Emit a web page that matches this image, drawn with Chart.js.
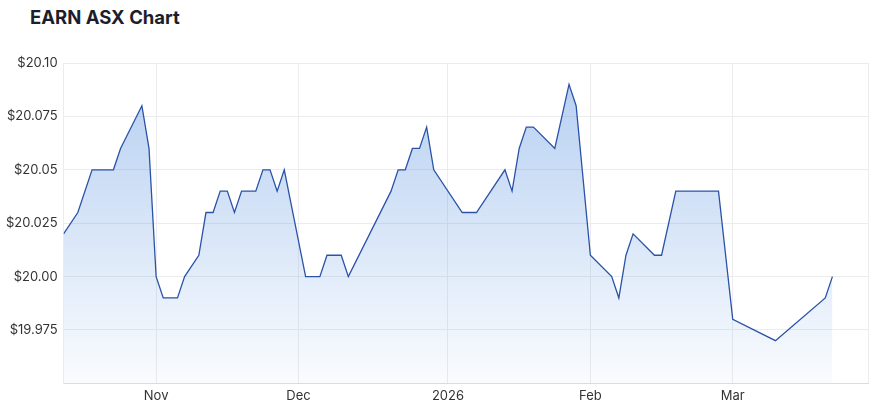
<!DOCTYPE html>
<html>
<head>
<meta charset="utf-8">
<script src="https://cdn.jsdelivr.net/npm/chart.js@4"></script>
<style>
  body { margin: 0; background: #fff; }
  #wrap { position: relative; width: 875px; height: 409px; }
  #title {
    position: absolute; left: 30px; top: 6px;
    font: bold 18.5px Inter, "Noto Sans", sans-serif; color: #1c1f2b;
  }
  canvas { position: absolute; left: 0; top: 0; }
</style>
</head>
<body>
<div id="wrap">
  <div id="title">EARN ASX Chart</div>
  <canvas id="chart" width="875" height="409"></canvas>
</div>
<script>
// trading-day index (0 = 15 Oct 2025) and closing price
const tradingDay = [0, 2, 4, 7, 8, 11, 12, 13, 14, 16, 17, 19, 20, 21, 22, 23, 24, 25, 27, 28, 29, 30, 31,
  34, 36, 37, 39, 40, 46, 47, 48, 49, 50, 51, 52, 56, 58, 62, 63, 64, 65, 66, 69, 71, 72,
  74, 77, 78, 79, 80, 83, 84, 86, 92, 94, 100, 107, 108];
const prices = [20.02, 20.03, 20.05, 20.05, 20.06, 20.08, 20.06, 20.00, 19.99, 19.99, 20.00, 20.01, 20.03, 20.03, 20.04, 20.04, 20.03, 20.04, 20.04, 20.05, 20.05, 20.04, 20.05,
  20.00, 20.00, 20.01, 20.01, 20.00, 20.04, 20.05, 20.05, 20.06, 20.06, 20.07, 20.05, 20.03, 20.03, 20.05, 20.04, 20.06, 20.07, 20.07, 20.06, 20.09, 20.08,
  20.01, 20.00, 19.99, 20.01, 20.02, 20.01, 20.01, 20.04, 20.04, 19.98, 19.97, 19.99, 20.00];

// first trading day of each month
const monthTickDays = [13, 33, 54, 74, 94];
const monthTickLabels = ["Nov", "Dec", "2026", "Feb", "Mar"];

const yTicks = [19.95, 19.975, 20.00, 20.025, 20.05, 20.075, 20.10];

const points = tradingDay.map((d, i) => ({ x: d, y: prices[i] }));

const ctx = document.getElementById("chart").getContext("2d");
new Chart(ctx, {
  type: "line",
  data: {
    datasets: [
      {
        data: points,
        borderColor: "#2a52a8",
        borderWidth: 1.3,
        pointRadius: 0,
        tension: 0,
        fill: "start",
        backgroundColor: (c) => {
          const area = c.chart.chartArea;
          if (!area) return "rgba(95,150,225,0.3)";
          const g = c.chart.ctx.createLinearGradient(0, area.top, 0, area.bottom);
          g.addColorStop(0, "rgba(95,150,225,0.47)");
          g.addColorStop(1, "rgba(95,150,225,0.03)");
          return g;
        },
      },
    ],
  },
  options: {
    responsive: false,
    animation: false,
    layout: { padding: { top: 63, right: 7, left: 0, bottom: 0 } },
    plugins: { legend: { display: false }, tooltip: { enabled: false } },
    scales: {
      x: {
        type: "linear",
        min: 0,
        max: 113,
        afterBuildTicks: (scale) => {
          scale.ticks = [0, ...monthTickDays, 113].map((v) => ({ value: v }));
        },
        ticks: {
          autoSkip: false,
          maxRotation: 0,
          padding: 5,
          color: "#333",
          font: { family: "Inter", size: 13 },
          callback: (v) => {
            const i = monthTickDays.indexOf(v);
            return i >= 0 ? monthTickLabels[i] : "";
          },
        },
        grid: { color: "#ececec", drawTicks: false },
        border: { color: "#dcdcdc" },
      },
      y: {
        min: 19.95,
        max: 20.10,
        afterBuildTicks: (scale) => {
          scale.ticks = yTicks.map((v) => ({ value: v }));
        },
        ticks: {
          padding: 6,
          color: "#333",
          font: { family: "Inter", size: 13 },
          callback: (v) => {
            if (Math.abs(v - 19.95) < 1e-6) return "";
            const r = Math.round(v * 1000);
            return "$" + (r % 10 ? v.toFixed(3) : v.toFixed(2));
          },
        },
        grid: { color: "#ececec", drawTicks: false },
        border: { color: "#ececec" },
      },
    },
  },
});
</script>
</body>
</html>
